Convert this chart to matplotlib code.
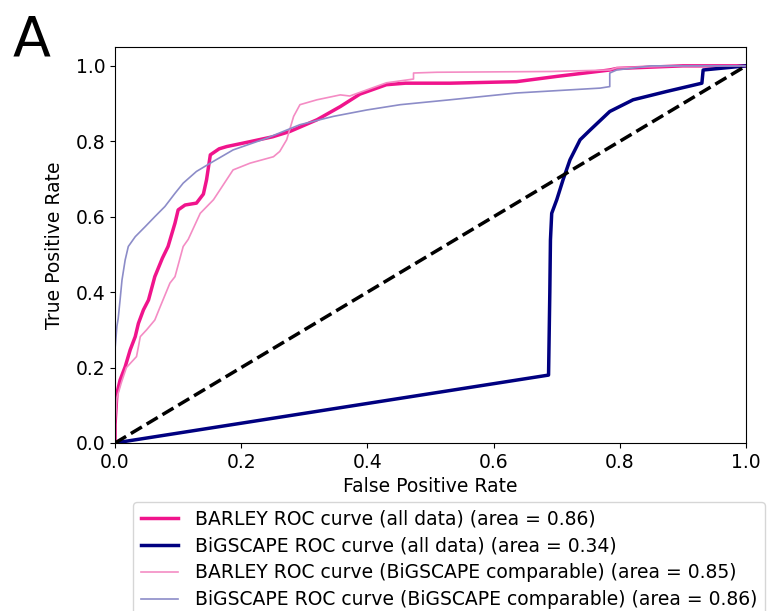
import matplotlib
matplotlib.use("Agg")
import matplotlib.pyplot as plt

# ROC curve points
barley_all_fpr = [0, 0, 0.003, 0.008, 0.016, 0.024, 0.032, 0.037, 0.045, 0.053, 0.063,
                  0.075, 0.084, 0.095, 0.1, 0.111, 0.129, 0.14, 0.145, 0.151, 0.165,
                  0.177, 0.214, 0.25, 0.277, 0.32, 0.357, 0.388, 0.43, 0.46, 0.531,
                  0.636, 0.70, 0.784, 0.795, 0.9, 1.0]
barley_all_tpr = [0, 0.05, 0.132, 0.167, 0.202, 0.247, 0.282, 0.317, 0.353, 0.379, 0.441,
                  0.49, 0.521, 0.583, 0.618, 0.631, 0.636, 0.66, 0.698, 0.764, 0.78,
                  0.786, 0.799, 0.812, 0.826, 0.857, 0.892, 0.925, 0.95, 0.954, 0.954,
                  0.958, 0.972, 0.989, 0.993, 1.0, 1.0]

big_all_fpr = [0, 0.687, 0.689, 0.690, 0.692, 0.70, 0.71, 0.721, 0.737, 0.753, 0.784,
               0.821, 0.874, 0.93, 0.932, 1.0]
big_all_tpr = [0, 0.18, 0.40, 0.538, 0.609, 0.645, 0.698, 0.751, 0.804, 0.83, 0.879,
               0.91, 0.932, 0.954, 0.989, 1.0]

barley_cmp_fpr = [0, 0, 0.003, 0.01, 0.018, 0.034, 0.037, 0.04, 0.05, 0.063, 0.07,
                  0.087, 0.095, 0.108, 0.116, 0.135, 0.156, 0.187, 0.214, 0.251, 0.261,
                  0.272, 0.283, 0.293, 0.32, 0.357, 0.372, 0.43, 0.473, 0.473, 0.51,
                  0.69, 0.784, 0.795, 0.9, 1.0]
barley_cmp_tpr = [0, 0.05, 0.12, 0.16, 0.2, 0.229, 0.255, 0.282, 0.30, 0.326, 0.355,
                  0.424, 0.441, 0.521, 0.54, 0.609, 0.645, 0.724, 0.742, 0.759, 0.773,
                  0.804, 0.866, 0.897, 0.91, 0.923, 0.92, 0.955, 0.965, 0.981, 0.983,
                  0.985, 0.989, 0.995, 1.0, 1.0]

big_cmp_fpr = [0, 0, 0.003, 0.005, 0.008, 0.011, 0.016, 0.021, 0.032, 0.048, 0.063,
               0.079, 0.095, 0.108, 0.129, 0.151, 0.187, 0.24, 0.293, 0.346, 0.399,
               0.452, 0.531, 0.636, 0.769, 0.784, 0.784, 0.795, 0.85, 1.0]
big_cmp_tpr = [0, 0.25, 0.31, 0.33, 0.38, 0.432, 0.485, 0.521, 0.547, 0.574, 0.6,
               0.627, 0.662, 0.689, 0.72, 0.742, 0.777, 0.808, 0.844, 0.866, 0.883,
               0.897, 0.91, 0.928, 0.941, 0.945, 0.981, 0.989, 1.0, 1.0]

labels = ['BARLEY ROC curve (all data) (area = 0.86)',
          'BiGSCAPE ROC curve (all data) (area = 0.34)',
          'BARLEY ROC curve (BiGSCAPE comparable) (area = 0.85)',
          'BiGSCAPE ROC curve (BiGSCAPE comparable) (area = 0.86)']

plt.rcParams['font.size'] = 13.5

fig = plt.figure(figsize=(7.67, 6.11), dpi=100)
ax = fig.add_axes([0.150, 0.275, 0.8227, 0.6481])

ax.plot(barley_all_fpr, barley_all_tpr, color='#f0148c', lw=2.5, label=labels[0])
ax.plot(big_all_fpr, big_all_tpr, color='#000080', lw=2.5, label=labels[1])
ax.plot(barley_cmp_fpr, barley_cmp_tpr, color='#f48cc4', lw=1.2, label=labels[2])
ax.plot(big_cmp_fpr, big_cmp_tpr, color='#8c8cc8', lw=1.2, label=labels[3])
ax.plot([0, 1], [0, 1], 'k--', lw=2.5)

ax.set_xlim(0, 1.0)
ax.set_ylim(0, 1.05)
ax.set_xlabel('False Positive Rate', labelpad=4)
ax.set_ylabel('True Positive Rate', labelpad=8)

fig.legend(loc='upper left', bbox_to_anchor=(133 / 767, 1 - 502 / 611),
           borderaxespad=0, labelspacing=0.42, handletextpad=0.9)
fig.text(13 / 767, 1 - 56 / 611, 'A', fontsize=40, ha='left', va='baseline')

fig.savefig('out.png', dpi=100)
